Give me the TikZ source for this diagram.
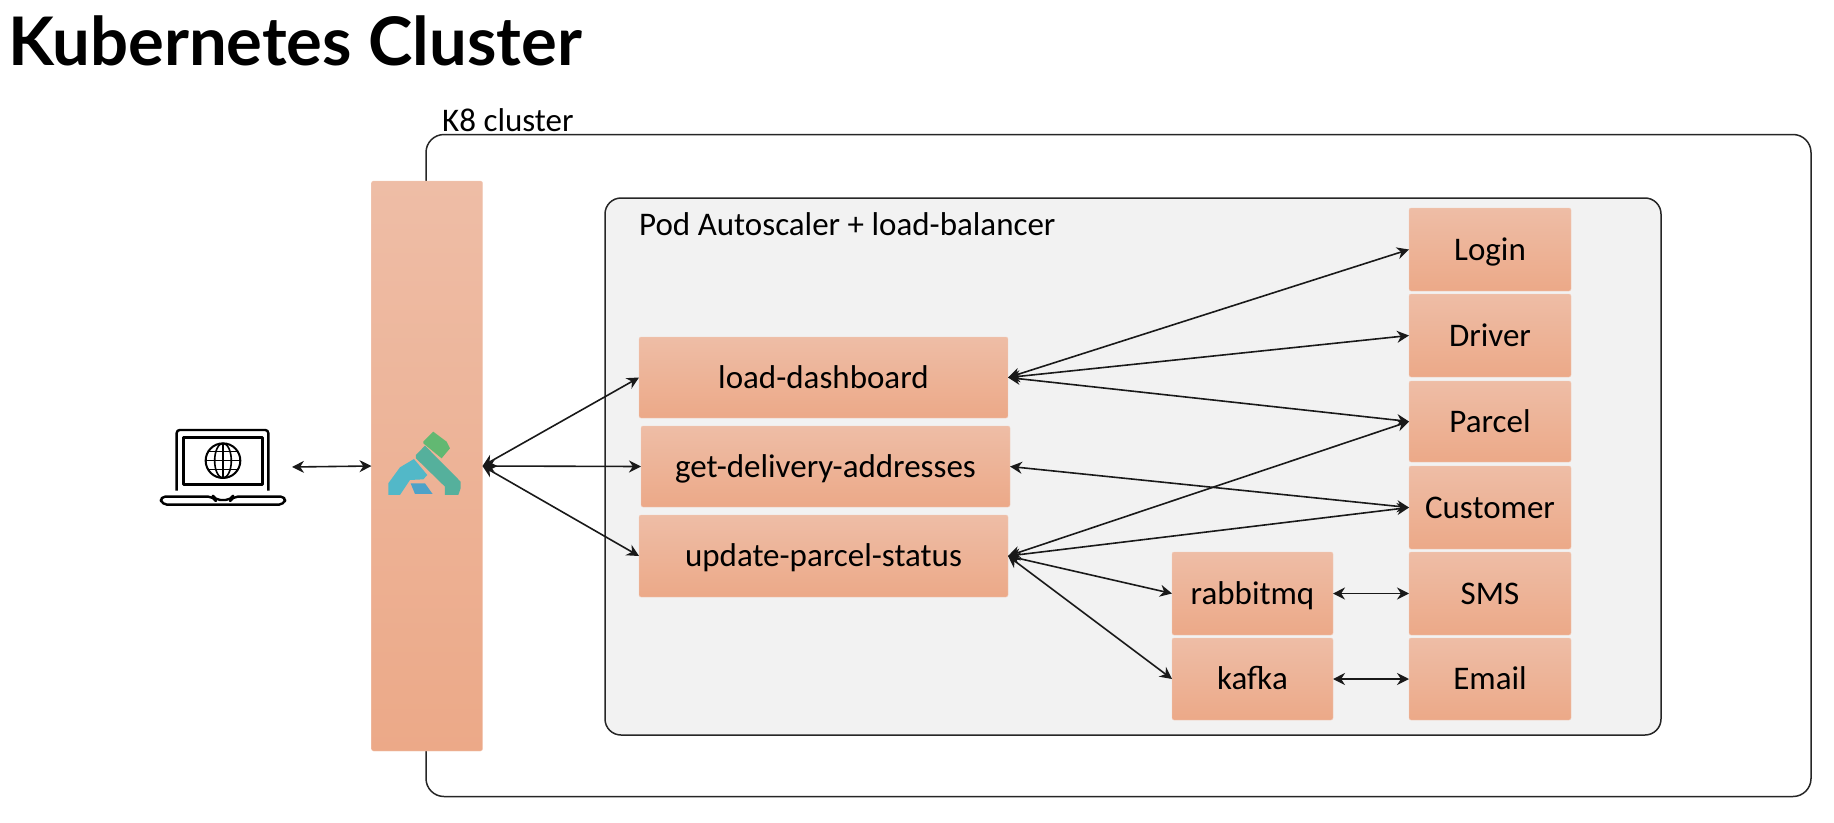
\documentclass[tikz,border=0pt]{standalone}
\usepackage{fontspec}
\setmainfont{Carlito}
\newfontfamily\titlefont{Lato}
\usetikzlibrary{arrows.meta}
\tikzset{
  box/.style={rectangle,rounded corners=2pt,top color=boxtop,bottom color=boxbot,draw=boxedge,line width=0.4pt,
    outer sep=0pt,inner sep=0pt,font=\fontsize{33}{36}\selectfont,text=black,text height=26pt,text depth=5pt},
  cont/.style={draw=black!85,rounded corners=18pt,line width=1.5pt,outer sep=0pt},
  conn/.style={draw=black!90,line width=1.6pt,{Stealth[length=12pt,width=12pt]}-{Stealth[length=12pt,width=12pt]}},
  lbl/.style={font=\fontsize{33}{36}\selectfont,anchor=west,inner sep=0pt,text=black,text height=26pt,text depth=5pt},
  icon/.style={draw=black,line width=2.4pt,line join=round},
}
\definecolor{boxtop}{HTML}{EEBDA6}
\definecolor{boxbot}{HTML}{ECA988}
\definecolor{boxedge}{HTML}{F3CDBB}
\definecolor{podfill}{HTML}{F2F2F2}
\definecolor{lgreen}{HTML}{62B872}
\definecolor{lteal}{HTML}{55B09C}
\definecolor{lblue}{HTML}{52B8C8}
\definecolor{lblue2}{HTML}{4EA2C8}
\begin{document}
\begin{tikzpicture}[x=1pt,y=-1pt]
\useasboundingbox (0,0) rectangle (1834,822);
\node[anchor=west,inner sep=0pt,font=\titlefont\bfseries\fontsize{67}{70}\selectfont] (title) at (8,41) {Kubernetes Cluster};
\node[lbl] (k8) at (442,121) {K8 cluster};
\node[cont,rectangle,minimum width=1385pt,minimum height=662pt,anchor=north west] (outer) at (426,134.5) {};
\node[box,minimum width=111pt,minimum height=570pt,anchor=north west] (gw) at (371.5,181) {};
\node[cont,rectangle,fill=podfill,rounded corners=16pt,minimum width=1056pt,minimum height=537pt,anchor=north west] (pod) at (605,198) {};
\node[lbl] (podl) at (639,225) {Pod Autoscaler + load-balancer};
\newcommand{\bx}[6]{\node[box,minimum width=#4pt-#2pt,minimum height=#5pt-#3pt,anchor=north west] (#1) at (#2,#3) {#6};}
\bx{load}{639}{337}{1008}{418}{load-dashboard}
\bx{get}{641}{426}{1010}{507}{get-delivery-addresses}
\bx{upd}{639}{515}{1008}{597}{update-parcel-status}
\bx{login}{1409}{208}{1571}{291}{Login}
\bx{driver}{1409}{294}{1571}{377}{Driver}
\bx{parcel}{1409}{381}{1571}{462}{Parcel}
\bx{cust}{1409}{466}{1571}{549}{Customer}
\bx{sms}{1409}{552}{1571}{635}{SMS}
\bx{email}{1409}{638}{1571}{720}{Email}
\bx{rabbit}{1172}{552}{1333}{635}{rabbitmq}
\bx{kafka}{1172}{638}{1333}{720}{kafka}
% laptop
\coordinate (lap) at (292,467);
\begin{scope}[shift={(130,380)},x=0.3333pt,y=-0.3333pt]
\draw[icon,rounded corners=3pt] (140,332) -- (140,150) -- (415,150) -- (415,332);
\draw[icon] (160,172) rectangle (398,313);
\draw[icon,line width=2pt] (279,242) circle (52);
\draw[icon,line width=1.6pt] (279,242) ellipse (25 and 52);
\draw[icon,line width=1.6pt] (279,190) -- (279,294) (227,242) -- (331,242) (235,215) -- (323,215) (235,269) -- (323,269);
\draw[icon,rounded corners=5pt] (90,350) -- (250,350) -- (256,360) -- (302,360) -- (308,350) -- (468,350) -- (462,374) -- (96,374) -- cycle;
% logo
\fill[lgreen] (880,185) -- (910,155) -- (950,185) -- (960,205) -- (935,235) -- (880,190) -- cycle;
\fill[lteal] (858,225) -- (885,197) -- (992,305) -- (992,325) -- (985,345) -- (945,345) -- (945,320) -- (858,235) -- cycle;
\fill[lblue] (775,310) -- (810,262) -- (852,237) -- (892,285) -- (880,298) -- (840,300) -- (810,345) -- (775,345) -- cycle;
\fill[lblue2] (842,310) -- (885,310) -- (908,342) -- (855,342) -- cycle;
\end{scope}
% connectors
\draw[conn] (lap) -- (gw.west);
\draw[conn] (gw.east) -- (load.west);
\draw[conn] (gw.east) -- (get.west);
\draw[conn] (gw.east) -- (upd.west);
\draw[conn] (load.east) -- (login.west);
\draw[conn] (load.east) -- (driver.west);
\draw[conn] (load.east) -- (parcel.west);
\draw[conn] (get.east) -- (cust.west);
\draw[conn] (upd.east) -- (parcel.west);
\draw[conn] (upd.east) -- (cust.west);
\draw[conn] (upd.east) -- (rabbit.west);
\draw[conn] (upd.east) -- (kafka.west);
\draw[conn] (rabbit.east) -- (sms.west);
\draw[conn] (kafka.east) -- (email.west);
\end{tikzpicture}
\end{document}
